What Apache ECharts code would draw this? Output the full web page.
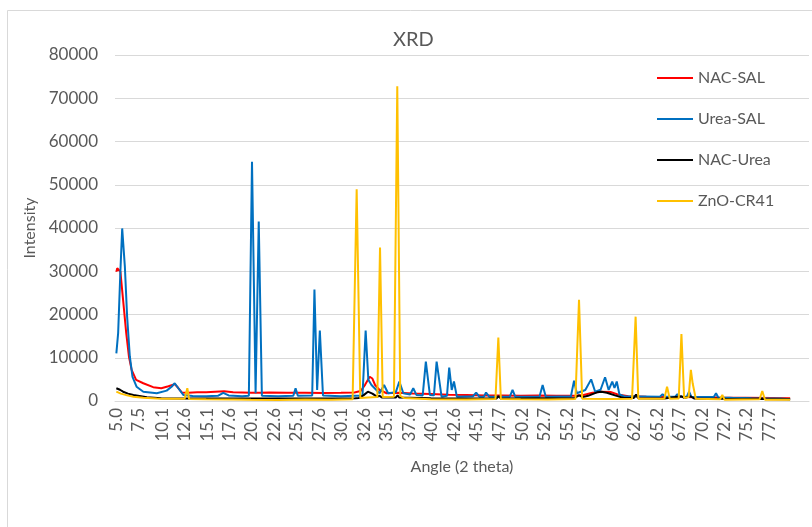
<!DOCTYPE html>
<html>
<head>
<meta charset="utf-8">
<script src="https://cdn.jsdelivr.net/npm/echarts@6/dist/echarts.min.js"></script>
<style>
  html, body { margin: 0; padding: 0; background: #ffffff; }
  #chart { width: 812px; height: 527px; }
</style>
</head>
<body>
<div id="chart"></div>
<script>
// Angle labels shown on the horizontal axis (2 theta, degrees)
const tickLabels = ['5.0', '7.5', '10.1', '12.6', '15.1', '17.6', '20.1', '22.6', '25.1', '27.6',
  '30.1', '32.6', '35.1', '37.6', '40.1', '42.6', '45.1', '47.7', '50.2', '52.7',
  '55.2', '57.7', '60.2', '62.7', '65.2', '67.7', '70.2', '72.7', '75.2', '77.7'];

// Diffraction patterns: [angle (2 theta), intensity]
const nacSal = [
  [5.0, 29900], [5.1, 30700], [5.2, 30300], [5.45, 29900], [5.75, 23400], [6.1, 15700],
  [6.4, 10300], [6.7, 7200], [7.2, 4900], [8.0, 4100], [9.1, 3200], [10.0, 2950],
  [10.8, 3400], [11.5, 3900], [11.9, 3000], [12.3, 1950], [13.0, 1900], [14.0, 2000],
  [15.0, 2050], [16.0, 2150], [17.0, 2250], [18.0, 2000], [19.0, 1950], [20.0, 1900],
  [21.0, 1900], [22.0, 1950], [24.0, 1900], [26.0, 1900], [28.0, 1850], [30.0, 1900],
  [31.5, 1950], [32.2, 2300], [32.7, 3800], [33.2, 5600], [33.5, 5200], [33.8, 3700],
  [34.3, 2550], [35.1, 1800], [36.5, 1900], [38.0, 1750], [40.0, 1600], [42.0, 1450],
  [44.0, 1400], [46.0, 1250], [48.0, 1250], [50.0, 1200], [52.0, 1250], [54.0, 1200],
  [56.0, 1200], [57.0, 1400], [58.0, 1900], [59.0, 2150], [60.0, 2100], [60.8, 1500],
  [62.0, 1100], [64.0, 1000], [66.0, 950], [68.0, 900], [70.0, 850], [72.0, 800],
  [75.0, 750], [78.0, 700], [80.0, 650]
];

const ureaSal = [
  [5.0, 11000], [5.2, 15700], [5.45, 30000], [5.65, 39900], [5.95, 31000], [6.2, 19500],
  [6.5, 10300], [6.8, 5600], [7.25, 3300], [8.0, 2150], [9.5, 1800], [10.6, 2400],
  [11.15, 3300], [11.5, 4100], [11.9, 2950], [12.45, 1400], [13.5, 1150], [15.0, 1100],
  [16.3, 1200], [16.9, 1900], [17.5, 1300], [19.0, 1100], [19.75, 1200], [20.1, 55300],
  [20.5, 1800], [20.85, 41500], [21.2, 1200], [23.0, 1100], [24.7, 1200], [24.95, 2950],
  [25.2, 1200], [26.8, 1300], [27.05, 25800], [27.35, 2550], [27.65, 16300], [28.0, 1300],
  [30.0, 1100], [32.4, 1300], [32.75, 16300], [33.05, 4900], [33.4, 3700], [34.3, 1800],
  [34.8, 3700], [35.25, 1800], [36.1, 2000], [36.5, 4500], [36.95, 1800], [37.7, 1500],
  [38.05, 2950], [38.4, 1400], [39.1, 1300], [39.45, 9100], [39.9, 1400], [40.35, 1300],
  [40.65, 9100], [41.2, 1000], [41.8, 1200], [42.05, 7700], [42.33, 2550], [42.58, 4500],
  [42.9, 1000], [44.7, 1100], [45.05, 1950], [45.4, 1000], [45.9, 1000], [46.15, 1950],
  [46.5, 1000], [48.8, 1000], [49.1, 2550], [49.4, 1000], [52.1, 1000], [52.45, 3700],
  [52.8, 1000], [55.6, 1100], [55.95, 4700], [56.25, 1800], [57.2, 2550], [57.85, 5000],
  [58.3, 2150], [58.9, 2600], [59.4, 5500], [59.8, 2550], [60.2, 4500], [60.45, 3000],
  [60.7, 4500], [61.0, 1500], [61.5, 1100], [65.5, 1000], [65.8, 1550], [66.1, 1000],
  [67.2, 1000], [67.45, 1550], [67.7, 1000], [68.5, 1000], [68.75, 2150], [69.0, 1000],
  [71.5, 900], [71.75, 1780], [72.0, 800], [73.3, 750], [73.5, 1000], [73.7, 700],
  [75.3, 700], [75.5, 1000], [75.7, 650], [78.5, 600], [78.7, 850], [78.9, 550], [80.0, 400]
];

const nacUrea = [
  [5.0, 2950], [5.4, 2600], [5.75, 2150], [6.3, 1700], [6.9, 1400], [8.4, 850],
  [10.0, 650], [12.0, 600], [15.0, 600], [20.0, 550], [25.0, 600], [30.0, 600],
  [31.6, 650], [31.8, 1000], [32.0, 700], [32.5, 1300], [33.0, 2150], [33.5, 1700],
  [34.0, 1000], [34.3, 1200], [34.6, 800], [36.1, 800], [36.3, 1300], [36.5, 800],
  [40.0, 650], [47.3, 600], [47.55, 1100], [47.8, 600], [56.0, 700], [56.5, 1300],
  [56.9, 900], [57.5, 1200], [58.5, 2000], [59.0, 2150], [59.6, 1900], [60.5, 1300],
  [61.5, 700], [62.6, 700], [62.85, 1500], [63.1, 650], [66.0, 600], [67.9, 1100],
  [68.2, 700], [68.9, 1100], [69.3, 600], [72.5, 500], [72.7, 900], [72.9, 450],
  [76.9, 500], [77.0, 900], [77.2, 450], [80.0, 400]
];

const znoCr41 = [
  [5.0, 2150], [5.5, 1700], [6.2, 1300], [6.9, 1000], [8.0, 750], [9.5, 600],
  [11.0, 500], [12.6, 500], [12.9, 2950], [13.1, 450], [15.0, 400], [18.0, 350],
  [20.0, 300], [23.0, 250], [26.0, 350], [29.0, 300], [31.3, 400], [31.75, 48950],
  [32.15, 700], [33.0, 800], [34.05, 900], [34.35, 35500], [34.65, 900], [35.9, 1000],
  [36.27, 72800], [36.6, 1200], [37.0, 700], [40.0, 400], [44.0, 350], [47.2, 450],
  [47.52, 14700], [47.8, 450], [50.0, 400], [53.0, 350], [56.1, 450], [56.5, 23400],
  [56.85, 500], [60.0, 450], [62.4, 500], [62.8, 19500], [63.1, 500], [66.0, 500],
  [66.3, 3300], [66.6, 500], [67.6, 600], [67.9, 15500], [68.2, 700], [68.7, 900],
  [68.95, 7200], [69.15, 4100], [69.5, 500], [72.2, 400], [72.45, 1400], [72.7, 300],
  [76.6, 400], [76.9, 2300], [77.2, 300], [80.0, 300]
];

const seriesNames = ['NAC-SAL', 'Urea-SAL', 'NAC-Urea', 'ZnO-CR41'];
const seriesColors = ['#FF0000', '#0070C0', '#000000', '#FFC000'];
const seriesData = [nacSal, ureaSal, nacUrea, znoCr41];

const FONT = 'Lato, "Open Sans", sans-serif';
const TEXT = '#595959';
const RULE = '#D9D9D9';

const chart = echarts.init(document.getElementById('chart'), null, { renderer: 'canvas' });

chart.setOption({
  animation: false,
  backgroundColor: '#ffffff',
  textStyle: { fontFamily: FONT },
  graphic: [{
    type: 'rect',
    silent: true,
    shape: { x: 7.5, y: 10.5, width: 900, height: 700 },
    style: { fill: 'none', stroke: RULE, lineWidth: 1 }
  }],
  title: {
    text: 'XRD',
    left: 393,
    top: 30,
    padding: 0,
    textStyle: { fontFamily: FONT, fontSize: 20, fontWeight: 'normal', color: TEXT }
  },
  legend: {
    orient: 'vertical',
    left: 657,
    top: 68,
    padding: 0,
    icon: 'rect',
    itemWidth: 36,
    itemHeight: 2,
    itemGap: 21,
    data: seriesNames,
    textStyle: { fontFamily: FONT, fontSize: 16, color: TEXT, lineHeight: 20 }
  },
  grid: { left: 115, right: 3, top: 55, bottom: 126, containLabel: false },
  xAxis: {
    type: 'value',
    min: 4.85,
    max: 82.1,
    name: 'Angle (2 theta)',
    nameLocation: 'middle',
    nameGap: 58,
    nameTextStyle: { fontFamily: FONT, fontSize: 16, color: TEXT },
    axisLine: { show: true, lineStyle: { color: RULE, width: 1 } },
    axisTick: { show: false },
    splitLine: { show: false },
    axisLabel: {
      customValues: tickLabels.map(Number),
      formatter: v => v.toFixed(1),
      rotate: 90,
      margin: 7,
      fontFamily: FONT,
      fontSize: 17,
      color: TEXT
    }
  },
  yAxis: {
    type: 'value',
    min: 0,
    max: 80000,
    interval: 10000,
    name: 'Intensity',
    nameLocation: 'middle',
    nameRotate: 90,
    nameGap: 67,
    nameTextStyle: { fontFamily: FONT, fontSize: 16, color: TEXT },
    axisLine: { show: false },
    axisTick: { show: false },
    splitLine: { lineStyle: { color: RULE, width: 1 } },
    axisLabel: { margin: 17, formatter: v => String(v), fontFamily: FONT, fontSize: 17, color: TEXT }
  },
  series: seriesNames.map((name, i) => ({
    type: 'line',
    name: name,
    data: seriesData[i],
    showSymbol: false,
    symbol: 'none',
    color: seriesColors[i],
    lineStyle: { width: 2, color: seriesColors[i] },
    emphasis: { disabled: true }
  }))
});
</script>
</body>
</html>
